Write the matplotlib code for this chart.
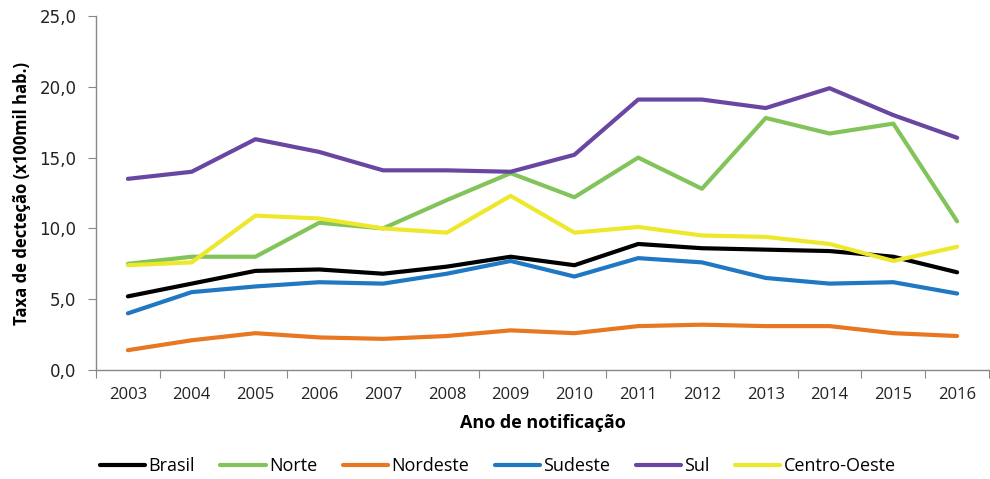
import matplotlib
matplotlib.use('Agg')
import matplotlib.pyplot as plt

# anos e taxas por regiao (x100mil hab.)
years = ["2003", "2004", "2005", "2006", "2007", "2008", "2009",
         "2010", "2011", "2012", "2013", "2014", "2015", "2016"]
brasil = [5.2, 6.1, 7.0, 7.1, 6.8, 7.3, 8.0, 7.4, 8.9, 8.6, 8.5, 8.4, 8.0, 6.9]
norte = [7.5, 8.0, 8.0, 10.4, 10.0, 12.0, 13.9, 12.2, 15.0, 12.8, 17.8, 16.7, 17.4, 10.5]
nordeste = [1.4, 2.1, 2.6, 2.3, 2.2, 2.4, 2.8, 2.6, 3.1, 3.2, 3.1, 3.1, 2.6, 2.4]
sudeste = [4.0, 5.5, 5.9, 6.2, 6.1, 6.8, 7.7, 6.6, 7.9, 7.6, 6.5, 6.1, 6.2, 5.4]
sul = [13.5, 14.0, 16.3, 15.4, 14.1, 14.1, 14.0, 15.2, 19.1, 19.1, 18.5, 19.9, 18.0, 16.4]
centro_oeste = [7.4, 7.6, 10.9, 10.7, 10.0, 9.7, 12.3, 9.7, 10.1, 9.5, 9.4, 8.9, 7.7, 8.7]

series = [
    ("Brasil", brasil, "#000000"),
    ("Norte", norte, "#82C45A"),
    ("Nordeste", nordeste, "#E87722"),
    ("Sudeste", sudeste, "#1F78C1"),
    ("Sul", sul, "#6A46A3"),
    ("Centro-Oeste", centro_oeste, "#EEE82C"),
]

plt.rcParams['font.family'] = ['Open Sans', 'DejaVu Sans']

fig = plt.figure(figsize=(9.9, 4.79), dpi=100)
ax = fig.add_axes([96 / 990, 1 - 370 / 479, 894 / 990 - 0.001, 354 / 479])

x = list(range(len(years)))
for label, vals, color in series:
    ax.plot(x, vals, color=color, linewidth=3.0, label=label,
            solid_capstyle='round', solid_joinstyle='round')

ax.set_xlim(-0.5, len(years) - 0.5)
ax.set_ylim(0, 25)
ax.set_yticks([0, 5, 10, 15, 20, 25])
ax.set_yticklabels(["0,0", "5,0", "10,0", "15,0", "20,0", "25,0"],
                   fontsize=12, family='DejaVu Sans', color='#222222')
# ticks entre as categorias, rotulos no centro
ax.set_xticks([i - 0.5 for i in range(len(years) + 1)], minor=False)
ax.set_xticklabels([])
ax.set_xticks(x, minor=True)
ax.set_xticklabels(years, minor=True, fontsize=12, color='#222222')
ax.tick_params(axis='x', which='major', length=6, color='#888888', direction='out')
ax.tick_params(axis='x', which='minor', length=0, pad=12)
ax.tick_params(axis='y', length=6, color='#888888', direction='out', pad=8)

for side in ['top', 'right']:
    ax.spines[side].set_visible(False)
for side in ['left', 'bottom']:
    ax.spines[side].set_color('#888888')
    ax.spines[side].set_linewidth(1.0)

ax.set_xlabel("Ano de notificação", fontsize=13, fontweight='bold', labelpad=8)
ax.set_ylabel("Taxa de decteção (x100mil hab.)", fontsize=12, fontweight='bold', labelpad=6)

fig.legend(loc='center', bbox_to_anchor=(0.503, 1 - 466 / 479), ncol=6, frameon=False,
           fontsize=13, handlelength=2.5, handletextpad=0.2, columnspacing=1.4)

plt.savefig('out.png', dpi=100)
